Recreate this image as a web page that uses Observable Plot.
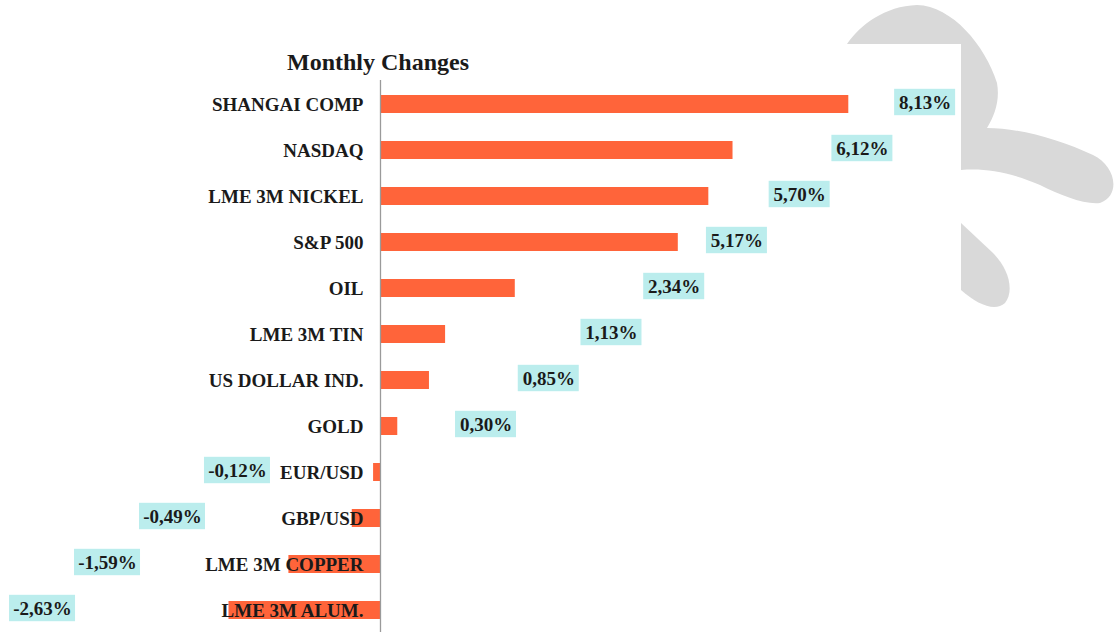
<!DOCTYPE html>
<html>
<head>
<meta charset="utf-8">
<script src="https://cdn.jsdelivr.net/npm/d3@7"></script>
<script src="https://cdn.jsdelivr.net/npm/@observablehq/plot@0.6"></script>
<style>
  html, body { margin: 0; padding: 0; background: #fff; }
  #wrap { position: relative; width: 1117px; height: 634px; overflow: hidden; font-family: "Liberation Serif", "Times New Roman", serif; }
  #logo { position: absolute; left: 0; top: 0; }
  #title { position: absolute; left: 287px; top: 50px; font-size: 24px; line-height: 24px; font-weight: bold; color: #1a1a1a; white-space: nowrap; }
  #chart { position: absolute; left: 0; top: 0; }
</style>
</head>
<body>
<div id="wrap">
  <svg id="logo" width="1117" height="634">
    <path fill="#D9D9D9" d="M 847,44 C 860,25 885,6 917,5 C 952,6 985,45 997,83 C 1000,100 995,115 987,128 C 1020,128 1060,140 1093,155 C 1115,165 1122,195 1100,203 C 1085,205 1060,195 1040,185 C 1010,172 985,168 961,170 L 961,44 Z"/>
    <path fill="#D9D9D9" d="M 961,223 L 993,253 C 1008,268 1015,290 1005,303 C 995,312 978,305 961,290 Z"/>
    <rect x="847" y="44" width="114" height="590" fill="#fff"/>
  </svg>
  <div id="title">Monthly Changes</div>
  <div id="chart"></div>
</div>
<script>
const categories = ["SHANGAI COMP", "NASDAQ", "LME 3M NICKEL", "S&P 500", "OIL", "LME 3M TIN", "US DOLLAR IND.", "GOLD", "EUR/USD", "GBP/USD", "LME 3M COPPER", "LME 3M ALUM."];
const changes = [8.13, 6.12, 5.70, 5.17, 2.34, 1.13, 0.85, 0.30, -0.12, -0.49, -1.59, -2.63];
const valueLabels = ["8,13%", "6,12%", "5,70%", "5,17%", "2,34%", "1,13%", "0,85%", "0,30%", "-0,12%", "-0,49%", "-1,59%", "-2,63%"];

// staggered label placement (by rank, as in the original layout)
const rows = categories.map((name, i) => {
  const v = changes[i];
  let lx;
  if (v >= 0) {
    const rank = changes.filter(c => c >= 0 && c < v).length;
    lx = 1.832 + 1.089 * rank;
  } else {
    const rank = changes.filter(c => c < 0 && c > v).length;
    lx = -2.483 - 1.128 * rank;
  }
  return {name, value: v, label: valueLabels[i], lx};
});
const pos = rows.filter(d => d.value >= 0);
const neg = rows.filter(d => d.value < 0);

const plot = Plot.plot({
  width: 1117,
  height: 634,
  marginTop: 80,
  marginBottom: 2,
  marginLeft: 0,
  marginRight: 0,
  style: {background: "transparent", fontFamily: "'Liberation Serif', 'Times New Roman', serif"},
  x: {domain: [-2.63, 8.13], range: [228.5, 848.3], axis: null},
  y: {domain: categories, range: [79.3, 635.7], paddingInner: 0.6, paddingOuter: 0.3, axis: null},
  marks: [
    Plot.barX(rows, {x: "value", y: "name", fill: "#FF643A"}),
    Plot.ruleX([0], {stroke: "#9a9a9a", strokeWidth: 1.3}),
    Plot.text(rows, {x: 0, y: "name", text: "name", textAnchor: "end", dx: -17, fontSize: 19, fontWeight: "bold", fill: "#1a1a1a"}),
    Plot.barX(pos, {x1: "lx", x2: "lx", y: "name", fill: "#BBEDED", insetLeft: -30.5, insetRight: -30.5, insetTop: -6.2, insetBottom: -2.2}),
    Plot.barX(neg, {x1: "lx", x2: "lx", y: "name", fill: "#BBEDED", insetLeft: -33, insetRight: -33, insetTop: -6.2, insetBottom: -2.2}),
    Plot.text(rows, {x: "lx", y: "name", text: "label", dy: -2, fontSize: 19, fontWeight: "bold", fill: "#1a1a1a"})
  ]
});
document.getElementById("chart").appendChild(plot);
</script>
</body>
</html>
